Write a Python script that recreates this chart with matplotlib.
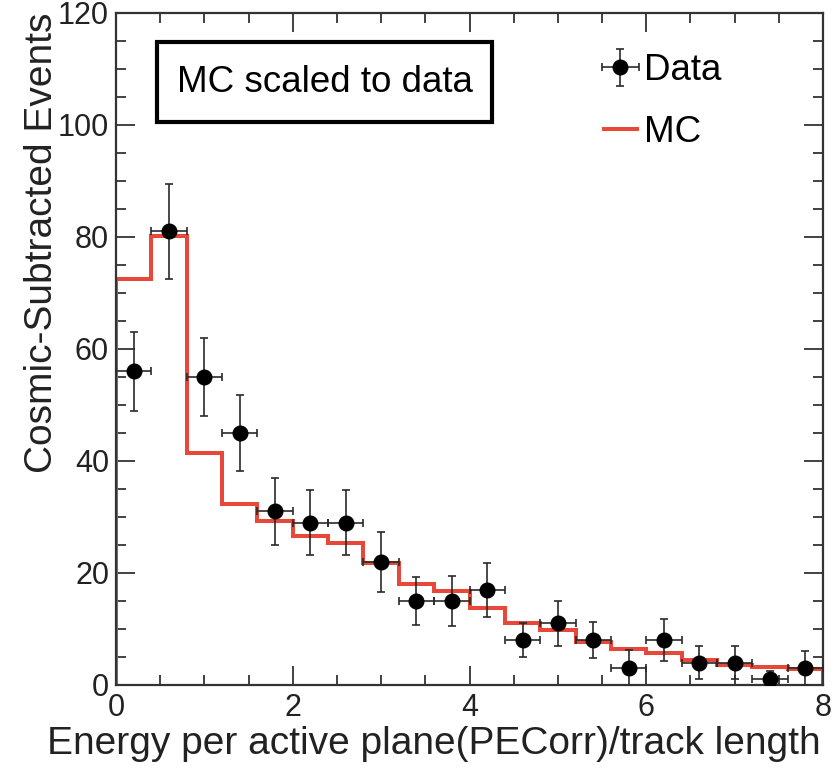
import numpy as np
import matplotlib
matplotlib.use("Agg")
import matplotlib.pyplot as plt
from matplotlib.patches import Rectangle
from matplotlib.ticker import MultipleLocator

plt.rcParams['font.family'] = ['Liberation Sans', 'DejaVu Sans']

# Data
edges = np.arange(0, 8.01, 0.4)  # 20 bins of width 0.4
data_counts = [56, 81, 55, 45, 31, 29, 29, 22, 15, 15, 17, 8, 11, 8, 3, 8, 4, 4, 1, 3]
data_err = [7.0, 8.5, 7.0, 6.7, 6.0, 5.8, 5.8, 5.4, 4.3, 4.5, 4.8, 3.0, 4.0, 3.2, 3.2, 3.8, 3.0, 3.0, 1.5, 3.0]
mc_counts = [72.5, 80.2, 41.5, 32.3, 29.2, 26.6, 25.3, 21.7, 18.1, 16.8,
             13.7, 11.0, 9.8, 7.7, 6.5, 5.7, 4.5, 3.6, 3.3, 2.8]

centers = 0.5 * (edges[:-1] + edges[1:])
half_w = 0.5 * np.diff(edges)

fig = plt.figure(figsize=(8.36, 7.68), dpi=100)
ax = fig.add_axes([116/836, 1 - 685/768, 707/836, 672/768])

# MC histogram
ax.stairs(mc_counts, edges, baseline=0, color='#e8483a', linewidth=2.9, label='MC', zorder=2)

# data points
ax.errorbar(centers, data_counts, yerr=data_err, xerr=half_w, fmt='o', color='black',
            ecolor='#2a2a2a', elinewidth=1.2, capsize=3, capthick=1.2, markersize=10.5,
            label='Data', zorder=3)

ax.set_xlim(0, 8)
ax.set_ylim(0, 120)

# ROOT style ticks
ax.xaxis.set_major_locator(MultipleLocator(2))
ax.xaxis.set_minor_locator(MultipleLocator(0.5))
ax.yaxis.set_major_locator(MultipleLocator(20))
ax.yaxis.set_minor_locator(MultipleLocator(5))
ax.tick_params(which='both', direction='in', top=True, right=True, color='#333333', width=1.3)
ax.tick_params(which='major', length=14, labelsize=22, labelcolor='#222222')
ax.tick_params(which='minor', length=7)
ax.tick_params(axis='x', pad=6)
ax.tick_params(axis='y', pad=5)
for s in ax.spines.values():
    s.set_color('#333333')
    s.set_linewidth(1.6)

# axis titles, aligned to the far end like ROOT
fig.text(42/836, 1 - 13/768, 'Cosmic-Subtracted Events', rotation=90, ha='center', va='top',
         fontsize=28, color='#222222')
fig.text(821/836, 1 - 754/768, 'Energy per active plane(PECorr)/track length', ha='right',
         va='baseline', fontsize=28, color='#222222')

# text box
ax.add_patch(Rectangle((0.058, 0.838), 0.474, 0.119, transform=ax.transAxes,
                       facecolor='white', edgecolor='black', linewidth=3, zorder=4))
ax.text(0.295, 0.897, 'MC scaled to data', transform=ax.transAxes, ha='center', va='center',
        fontsize=26.5, color='black', zorder=5)

# legend
handles, labels = ax.get_legend_handles_labels()
order = [labels.index('Data'), labels.index('MC')]
ax.legend([handles[i] for i in order], [labels[i] for i in order], loc='upper left',
          bbox_to_anchor=(0.69, 0.94), frameon=False, fontsize=26.5, handlelength=0.9,
          handletextpad=0.2, labelspacing=0.72, borderpad=0, borderaxespad=0)

fig.savefig('out.png', dpi=100)
